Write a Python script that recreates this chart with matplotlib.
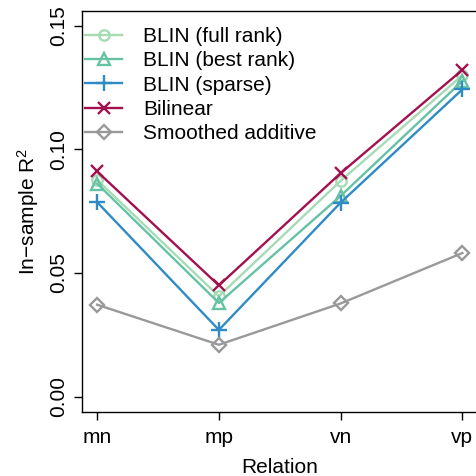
import matplotlib
matplotlib.use("Agg")
import matplotlib.pyplot as plt

plt.rcParams["font.family"] = ["Liberation Sans", "DejaVu Sans"]
plt.rcParams["mathtext.fontset"] = "custom"
plt.rcParams["mathtext.rm"] = "Liberation Sans"
plt.rcParams["mathtext.it"] = "Liberation Sans:italic"

# datos
relations = ["mn", "mp", "vn", "vp"]
blin_full = [0.0877, 0.0406, 0.0873, 0.1300]
blin_best = [0.0862, 0.0379, 0.0812, 0.1277]
blin_sparse = [0.0787, 0.0270, 0.0785, 0.1243]
bilinear = [0.0911, 0.0450, 0.0904, 0.1322]
smoothed = [0.0372, 0.0210, 0.0377, 0.0581]

series = [
    ("BLIN (full rank)", blin_full, "#a6dbb4", "o", 7.5),
    ("BLIN (best rank)", blin_best, "#66c2a4", "^", 9),
    ("BLIN (sparse)", blin_sparse, "#2f8bc6", "+", 12),
    ("Bilinear", bilinear, "#a3104e", "x", 9),
    ("Smoothed additive", smoothed, "#999999", "D", 7.5),
]

FS = 15

fig = plt.figure(figsize=(4.77, 4.76), dpi=100)
ax = fig.add_axes([82.5 / 477, 1 - 411.5 / 476, (477 - 82.5) / 477, 400.5 / 476])

x = list(range(1, len(relations) + 1))
for label, vals, col, mk, ms in series:
    ax.plot(x, vals, color=col, lw=1.7, marker=mk, ms=ms, mfc="none",
            mec=col, mew=1.7, label=label)

ax.set_xlim(0.88, 4.12)
ax.set_ylim(-0.006, 0.156)
ax.set_xticks(x)
ax.set_xticklabels(relations)
ax.set_yticks([0.0, 0.05, 0.10, 0.15])
ax.set_yticklabels(["0.00", "0.05", "0.10", "0.15"], rotation=90, va="center")
ax.tick_params(labelsize=FS, length=6, width=1, direction="out", pad=4)
ax.tick_params(axis="x", pad=6)
for s in ax.spines.values():
    s.set_linewidth(1)
ax.set_xlabel("Relation", fontsize=FS, labelpad=8)
ax.set_ylabel("In\u2212sample R$^2$", fontsize=FS, labelpad=6)

ax.legend(loc="upper left", bbox_to_anchor=(-0.01, 0.975), frameon=False,
          fontsize=FS, handlelength=1.8, labelspacing=0.25, handletextpad=1.0,
          borderaxespad=0.0, borderpad=0.3)

fig.savefig("out.png", dpi=100, facecolor="white")
